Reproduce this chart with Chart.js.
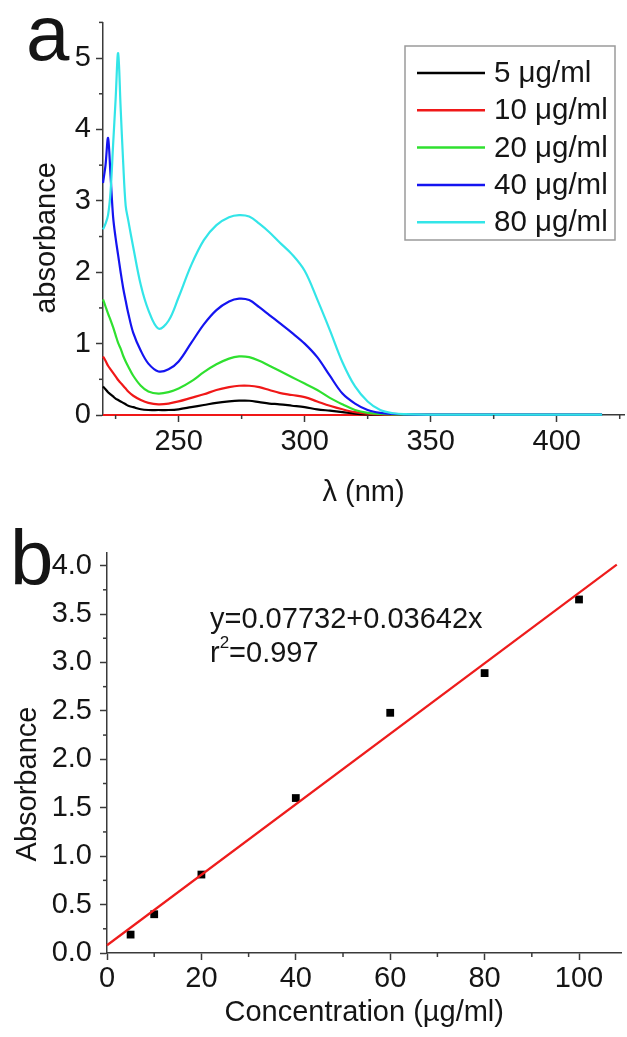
<!DOCTYPE html>
<html>
<head>
<meta charset="utf-8">
<script src="https://cdn.jsdelivr.net/npm/chart.js@4/dist/chart.umd.min.js"></script>
<style>
html,body{margin:0;padding:0;background:#fff;}
#wrap{position:relative;width:627px;height:1037px;overflow:hidden;background:#fff;}
#ca{position:absolute;left:0;top:0;}
#cb{position:absolute;left:0;top:520px;}
</style>
</head>
<body>
<div id="wrap">
<canvas id="ca" width="627" height="520"></canvas>
<canvas id="cb" width="627" height="517"></canvas>
</div>
<script>
// ---------- Panel a: UV spectra ----------
const wavelengths = [220,221,222,223,224,225,226,227,228,229,230,232,235,238,242,246,250,255,260,265,270,274,278,282,286,290,295,300,305,310,315,320,325,330,335,340,350,360,380,400,418];
const abs5  = [0.40,0.36,0.32,0.29,0.26,0.23,0.21,0.19,0.17,0.15,0.13,0.11,0.08,0.07,0.07,0.07,0.08,0.11,0.14,0.17,0.19,0.20,0.20,0.18,0.16,0.15,0.13,0.11,0.08,0.06,0.04,0.02,0.01,0.006,0.004,0.003,0.002,0.002,0.002,0.002,0.002];
const abs10 = [0.82,0.76,0.69,0.64,0.59,0.54,0.49,0.45,0.41,0.37,0.33,0.27,0.21,0.17,0.15,0.16,0.19,0.24,0.29,0.35,0.39,0.41,0.41,0.39,0.35,0.31,0.28,0.25,0.19,0.13,0.08,0.04,0.02,0.01,0.006,0.004,0.003,0.003,0.003,0.003,0.003];
const abs20 = [1.62,1.52,1.42,1.33,1.23,1.12,1.01,0.93,0.83,0.75,0.68,0.55,0.41,0.33,0.30,0.32,0.37,0.47,0.60,0.71,0.79,0.82,0.81,0.76,0.69,0.62,0.53,0.44,0.35,0.24,0.15,0.07,0.03,0.015,0.008,0.005,0.003,0.003,0.003,0.003,0.003];
const abs40 = [3.25,3.50,3.88,3.35,2.78,2.48,2.24,2.00,1.78,1.60,1.43,1.15,0.90,0.72,0.61,0.64,0.75,1.01,1.27,1.47,1.59,1.63,1.61,1.51,1.40,1.29,1.15,1.00,0.81,0.55,0.30,0.16,0.07,0.03,0.015,0.008,0.005,0.004,0.004,0.004,0.004];
const abs80 = [2.60,2.68,2.80,3.13,3.78,4.42,5.07,4.30,3.54,2.93,2.73,2.35,1.82,1.47,1.21,1.32,1.65,2.10,2.45,2.66,2.77,2.80,2.78,2.68,2.56,2.42,2.25,2.02,1.62,1.19,0.74,0.40,0.19,0.07,0.025,0.012,0.006,0.005,0.005,0.005,0.005];
const baselineWl  = [220, 345];
const baselineAbs = [0, 0];
const seriesLabels = ['5 μg/ml','10 μg/ml','20 μg/ml','40 μg/ml','80 μg/ml'];
const seriesColors = ['#000000','#f01818','#2fe02f','#1414f0','#33e5e8'];
const xMajorA = [250,300,350,400];
const xMinorA = [225,275,325,375,425];
const yMajorA = [0,1,2,3,4,5];
const yMinorA = [0.5,1.5,2.5,3.5,4.5,5.5];

// ---------- Panel b: calibration ----------
const concentrations = [5,10,20,40,60,80,100];
const absorbanceB    = [0.19,0.40,0.81,1.60,2.48,2.89,3.65];
const fitLineX = [0, 108];
const fitLineY = [0.08, 4.01];
const xMajorB = [0,20,40,60,80,100];
const xMinorB = [10,30,50,70,90];
const yMajorB = [0,0.5,1,1.5,2,2.5,3,3.5,4];
const yMinorB = [0.25,0.75,1.25,1.75,2.25,2.75,3.25,3.75];
const equationText = 'y=0.07732+0.03642x';
const r2Text = '=0.997';

const FONT = "'Liberation Sans', Arial, Helvetica, sans-serif";
const textColor = '#151515';
const axisColor = '#3a3a3a';

Chart.defaults.font.family = FONT;
Chart.defaults.color = textColor;

const pts = (xs, ys) => xs.map((x, i) => ({x: x, y: ys[i]}));

const minorTicks = {
  id: 'minorTicks',
  afterDraw(chart, args, opts) {
    const ctx = chart.ctx, xs = chart.scales.x, ys = chart.scales.y;
    ctx.save();
    ctx.strokeStyle = axisColor; ctx.lineWidth = 1.5;
    (opts.x || []).forEach(v => {
      const p = xs.getPixelForValue(v);
      ctx.beginPath(); ctx.moveTo(p, xs.top); ctx.lineTo(p, xs.top + 4); ctx.stroke();
    });
    (opts.y || []).forEach(v => {
      const p = ys.getPixelForValue(v);
      ctx.beginPath(); ctx.moveTo(ys.right, p); ctx.lineTo(ys.right - 4, p); ctx.stroke();
    });
    ctx.restore();
  }
};

const texts = {
  id: 'texts',
  afterDraw(chart, args, opts) {
    const ctx = chart.ctx;
    ctx.save();
    ctx.fillStyle = textColor;
    if (opts.letter) {
      ctx.font = '78px ' + FONT;
      ctx.textAlign = 'left'; ctx.textBaseline = 'alphabetic';
      ctx.fillText(opts.letter.t, opts.letter.x, opts.letter.y);
    }
    if (opts.ytitle) {
      ctx.save();
      ctx.translate(opts.ytitle.x, opts.ytitle.y);
      ctx.rotate(-Math.PI / 2);
      ctx.font = '29px ' + FONT;
      ctx.textAlign = 'center'; ctx.textBaseline = 'alphabetic';
      ctx.fillText(opts.ytitle.t, 0, 0);
      ctx.restore();
    }
    if (opts.legend) {
      const L = opts.legend;
      ctx.strokeStyle = '#9a9a9a'; ctx.lineWidth = 1.5;
      ctx.strokeRect(L.x, L.y, L.w, L.h);
      ctx.font = '29.5px ' + FONT;
      ctx.textAlign = 'left'; ctx.textBaseline = 'middle';
      chart.data.datasets.filter(d => seriesLabels.includes(d.label)).forEach((d, i) => {
        const yy = L.firstY + i * L.step;
        ctx.strokeStyle = d.borderColor; ctx.lineWidth = 2.5;
        ctx.beginPath(); ctx.moveTo(L.lineX0, yy); ctx.lineTo(L.lineX1, yy); ctx.stroke();
        ctx.fillStyle = textColor;
        ctx.fillText(d.label, L.textX, yy + 1);
      });
    }
    if (opts.eq) {
      const E = opts.eq;
      ctx.font = '29px ' + FONT;
      ctx.textAlign = 'left'; ctx.textBaseline = 'middle';
      ctx.fillText(equationText, E.x, E.y1);
      ctx.fillText('r', E.x, E.y2);
      const rw = ctx.measureText('r').width;
      ctx.font = '17px ' + FONT;
      ctx.fillText('2', E.x + rw, E.y2 - 11);
      const sw = ctx.measureText('2').width;
      ctx.font = '29px ' + FONT;
      ctx.fillText(r2Text, E.x + rw + sw, E.y2);
    }
    ctx.restore();
  }
};

const tickFont = {family: FONT, size: 29};
const titleFont = {family: FONT, size: 29};

// ---------- Chart a ----------
const specDatasets = [abs5, abs10, abs20, abs40, abs80].map((arr, i) => ({
  label: seriesLabels[i],
  data: pts(wavelengths, arr),
  borderColor: seriesColors[i],
  backgroundColor: seriesColors[i],
  borderWidth: 2.2,
  pointRadius: 0,
  fill: false,
  tension: 0.35,
  clip: false,
  order: 4 - i
}));
specDatasets.push({
  label: 'baseline',
  data: pts(baselineWl, baselineAbs),
  borderColor: '#f01818',
  borderWidth: 2,
  pointRadius: 0,
  clip: false,
  order: 5
});

new Chart(document.getElementById('ca'), {
  type: 'line',
  data: { datasets: specDatasets },
  options: {
    responsive: false,
    animation: false,
    layout: { padding: { top: 22, right: 3, left: 0, bottom: 0 } },
    plugins: {
      legend: { display: false },
      tooltip: { enabled: false },
      minorTicks: { x: xMinorA, y: yMinorA },
      texts: {
        letter: { t: 'a', x: 26, y: 60 },
        ytitle: { t: 'absorbance', x: 55, y: 238 },
        legend: { x: 405, y: 46, w: 210, h: 194, firstY: 73, step: 37.3, lineX0: 417, lineX1: 485, textX: 494 }
      }
    },
    scales: {
      x: {
        type: 'linear', min: 220, max: 426.7,
        afterBuildTicks: s => { s.ticks = xMajorA.map(v => ({value: v})); },
        afterFit: s => { s.height = 105; },
        ticks: { font: tickFont, color: textColor, padding: 3, maxRotation: 0, autoSkip: false, callback: v => String(v) },
        grid: { display: true, drawOnChartArea: false, drawTicks: true, tickLength: 7, tickWidth: 1.5, tickColor: axisColor },
        border: { display: true, color: axisColor, width: 1.5 },
        title: { display: true, text: 'λ (nm)', font: titleFont, color: textColor, padding: { top: 0, bottom: 10 } }
      },
      y: {
        type: 'linear', min: 0, max: 5.5,
        afterBuildTicks: s => { s.ticks = yMajorA.map(v => ({value: v})); },
        afterFit: s => { s.width = 103; },
        ticks: { font: tickFont, color: textColor, padding: 5, autoSkip: false, callback: v => String(v) },
        grid: { display: true, drawOnChartArea: false, drawTicks: true, tickLength: 7, tickWidth: 1.5, tickColor: axisColor },
        border: { display: true, color: axisColor, width: 1.5 }
      }
    }
  },
  plugins: [minorTicks, texts]
});

// ---------- Chart b ----------
new Chart(document.getElementById('cb'), {
  type: 'scatter',
  data: {
    datasets: [
      {
        label: 'fit',
        data: pts(fitLineX, fitLineY),
        showLine: true,
        borderColor: '#ee1c1c',
        borderWidth: 2.2,
        pointRadius: 0,
        clip: false,
        order: 0
      },
      {
        label: 'Absorbance',
        data: pts(concentrations, absorbanceB),
        pointStyle: 'rect',
        pointRadius: 5.5,
        backgroundColor: '#000',
        borderColor: '#000',
        borderWidth: 0,
        clip: false,
        order: 1
      }
    ]
  },
  options: {
    responsive: false,
    animation: false,
    layout: { padding: { top: 33, right: 3, left: 0, bottom: 0 } },
    plugins: {
      legend: { display: false },
      tooltip: { enabled: false },
      minorTicks: { x: xMinorB, y: yMinorB },
      texts: {
        letter: { t: 'b', x: 10, y: 65 },
        ytitle: { t: 'Absorbance', x: 36, y: 264 },
        eq: { x: 210, y1: 100, y2: 134 }
      }
    },
    scales: {
      x: {
        type: 'linear', min: 0, max: 109,
        afterBuildTicks: s => { s.ticks = xMajorB.map(v => ({value: v})); },
        afterFit: s => { s.height = 84; },
        ticks: { font: tickFont, color: textColor, padding: 2, maxRotation: 0, autoSkip: false, callback: v => String(v) },
        grid: { display: true, drawOnChartArea: false, drawTicks: true, tickLength: 7, tickWidth: 1.5, tickColor: axisColor },
        border: { display: true, color: axisColor, width: 1.5 },
        title: { display: true, text: 'Concentration (µg/ml)', font: titleFont, color: textColor, padding: { top: 0, bottom: 7 } }
      },
      y: {
        type: 'linear', min: 0, max: 4.13,
        afterBuildTicks: s => { s.ticks = yMajorB.map(v => ({value: v})); },
        afterFit: s => { s.width = 107; },
        ticks: { font: tickFont, color: textColor, padding: 8, autoSkip: false, callback: v => Number(v).toFixed(1) },
        grid: { display: true, drawOnChartArea: false, drawTicks: true, tickLength: 7, tickWidth: 1.5, tickColor: axisColor },
        border: { display: true, color: axisColor, width: 1.5 }
      }
    }
  },
  plugins: [minorTicks, texts]
});
</script>
</body>
</html>
